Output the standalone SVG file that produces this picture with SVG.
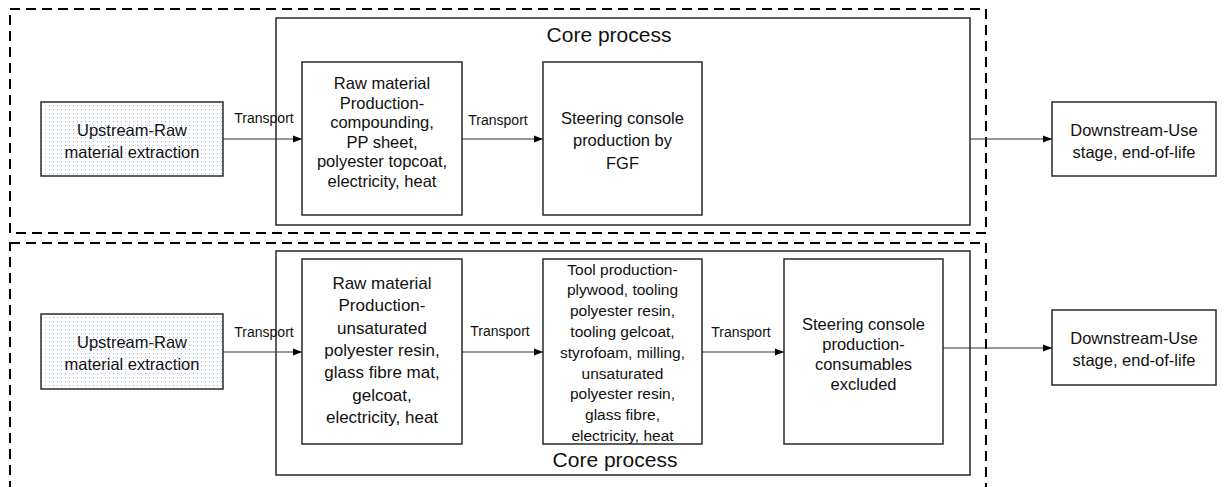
<svg xmlns="http://www.w3.org/2000/svg" width="1226" height="487" viewBox="0 0 1226 487">
<style>
  text { font-family: "Liberation Sans", Arial, sans-serif; fill: #111; }
  .node { fill: #fff; stroke: #2a2a2a; stroke-width: 1.5; }
  .up { fill: url(#dots); stroke: #2a2a2a; stroke-width: 1.5; }
  .core { fill: none; stroke: #2a2a2a; stroke-width: 1.5; }
  .dash { fill: none; stroke: #000; stroke-width: 2; stroke-dasharray: 10 6; }
  .t { font-size: 16.5px; text-anchor: middle; }
  .tl { font-size: 14px; text-anchor: middle; }
  .cp { font-size: 21px; text-anchor: middle; }
  .conn { stroke: #333; stroke-width: 1; fill: none; marker-end: url(#arr); }
</style>
<defs>
  <pattern id="dots" width="4" height="4" patternUnits="userSpaceOnUse">
    <rect width="4" height="4" fill="#fff"/>
    <rect x="1" y="1" width="1" height="1" fill="#a3b8e3"/>
  </pattern>
  <marker id="arr" viewBox="0 0 10 10" refX="10" refY="5" markerWidth="9" markerHeight="9" markerUnits="userSpaceOnUse" orient="auto">
    <path d="M0,1 L10,5 L0,9 z" fill="#000"/>
  </marker>
</defs>

<g id="boundary-top"><rect class="dash" x="10" y="9" width="976" height="224"/></g>
<g id="boundary-bottom"><rect class="dash" x="10" y="243" width="976" height="260"/></g>

<g id="core-top">
  <rect class="core" x="276" y="18" width="694" height="207"/>
  <text class="cp" x="609" y="42">Core process</text>
</g>
<g id="core-bottom">
  <rect class="core" x="276" y="251" width="694" height="224"/>
  <text class="cp" x="615" y="467">Core process</text>
</g>

<g id="connectors">
  <line class="conn" x1="223" y1="139" x2="302" y2="139"/>
  <line class="conn" x1="462" y1="139" x2="543" y2="139"/>
  <line class="conn" x1="970" y1="139" x2="1052" y2="139"/>
  <line class="conn" x1="223" y1="352" x2="302" y2="352"/>
  <line class="conn" x1="462" y1="352" x2="543" y2="352"/>
  <line class="conn" x1="702" y1="352" x2="784" y2="352"/>
  <line class="conn" x1="943" y1="348" x2="1052" y2="348"/>
  <text class="tl" x="264" y="123">Transport</text>
  <text class="tl" x="498" y="125">Transport</text>
  <text class="tl" x="264" y="337">Transport</text>
  <text class="tl" x="500" y="336">Transport</text>
  <text class="tl" x="741" y="337">Transport</text>
</g>

<g id="upstream-top">
  <rect class="up" x="41" y="102" width="182" height="74"/>
  <text class="t" x="132" y="136">Upstream-Raw</text>
  <text class="t" x="132" y="158">material extraction</text>
</g>
<g id="raw-top">
  <rect class="node" x="302" y="62" width="160" height="153"/>
  <text class="t" x="382" y="89">Raw material</text>
  <text class="t" x="382" y="108.5">Production-</text>
  <text class="t" x="382" y="128">compounding,</text>
  <text class="t" x="382" y="147.5">PP sheet,</text>
  <text class="t" x="382" y="167">polyester topcoat,</text>
  <text class="t" x="382" y="186.5">electricity, heat</text>
</g>
<g id="steering-top">
  <rect class="node" x="543" y="62" width="159" height="153"/>
  <text class="t" x="622.5" y="123.5">Steering console</text>
  <text class="t" x="622.5" y="146">production by</text>
  <text class="t" x="622.5" y="168.5">FGF</text>
</g>
<g id="downstream-top">
  <rect class="node" x="1052" y="102" width="164" height="74"/>
  <text class="t" x="1134" y="136">Downstream-Use</text>
  <text class="t" x="1134" y="158">stage, end-of-life</text>
</g>

<g id="upstream-bottom">
  <rect class="up" x="41" y="314" width="182" height="75"/>
  <text class="t" x="132" y="348">Upstream-Raw</text>
  <text class="t" x="132" y="370">material extraction</text>
</g>
<g id="raw-bottom">
  <rect class="node" x="302" y="259" width="160" height="185"/>
  <text class="t" x="382" y="289" style="font-size:17px">Raw material</text>
  <text class="t" x="382" y="311.3" style="font-size:17px">Production-</text>
  <text class="t" x="382" y="333.6" style="font-size:17px">unsaturated</text>
  <text class="t" x="382" y="355.9" style="font-size:17px">polyester resin,</text>
  <text class="t" x="382" y="378.2" style="font-size:17px">glass fibre mat,</text>
  <text class="t" x="382" y="400.5" style="font-size:17px">gelcoat,</text>
  <text class="t" x="382" y="422.8" style="font-size:17px">electricity, heat</text>
</g>
<g id="tool-bottom">
  <rect class="node" x="543" y="259" width="159" height="185"/>
  <text class="t" x="622.5" y="274.5" style="font-size:15.5px">Tool production-</text>
  <text class="t" x="622.5" y="295.3" style="font-size:15.5px">plywood, tooling</text>
  <text class="t" x="622.5" y="316.1" style="font-size:15.5px">polyester resin,</text>
  <text class="t" x="622.5" y="336.9" style="font-size:15.5px">tooling gelcoat,</text>
  <text class="t" x="622.5" y="357.7" style="font-size:15.5px">styrofoam, milling,</text>
  <text class="t" x="622.5" y="378.5" style="font-size:15.5px">unsaturated</text>
  <text class="t" x="622.5" y="399.3" style="font-size:15.5px">polyester resin,</text>
  <text class="t" x="622.5" y="420.1" style="font-size:15.5px">glass fibre,</text>
  <text class="t" x="622.5" y="440.9" style="font-size:15.5px">electricity,  heat</text>
</g>
<g id="steering-bottom">
  <rect class="node" x="784" y="259" width="159" height="185"/>
  <text class="t" x="863.5" y="329.5">Steering console</text>
  <text class="t" x="863.5" y="349.8">production-</text>
  <text class="t" x="863.5" y="370.1">consumables</text>
  <text class="t" x="863.5" y="390.4">excluded</text>
</g>
<g id="downstream-bottom">
  <rect class="node" x="1052" y="310" width="164" height="75"/>
  <text class="t" x="1134" y="344">Downstream-Use</text>
  <text class="t" x="1134" y="366">stage, end-of-life</text>
</g>
</svg>
